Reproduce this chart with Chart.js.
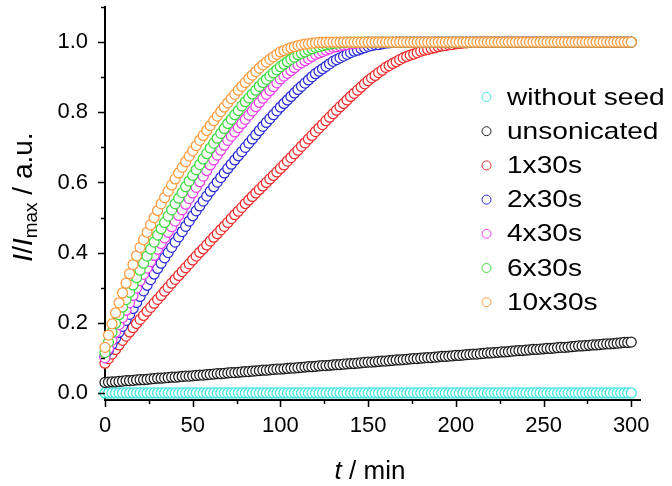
<!DOCTYPE html>
<html>
<head>
<meta charset="utf-8">
<script src="https://cdn.jsdelivr.net/npm/chart.js@4"></script>
<style>
  html, body { margin: 0; padding: 0; background: #fff; }
  canvas { display: block; }
</style>
</head>
<body>
<canvas id="chart" width="672" height="486"></canvas>
<script>
// ---- data (t in min, I/Imax), one point every 2 min ----
const times = [
  0,2,4,6,8,10,12,14,16,18,
  20,22,24,26,28,30,32,34,36,38,
  40,42,44,46,48,50,52,54,56,58,
  60,62,64,66,68,70,72,74,76,78,
  80,82,84,86,88,90,92,94,96,98,
  100,102,104,106,108,110,112,114,116,118,
  120,122,124,126,128,130,132,134,136,138,
  140,142,144,146,148,150,152,154,156,158,
  160,162,164,166,168,170,172,174,176,178,
  180,182,184,186,188,190,192,194,196,198,
  200,202,204,206,208,210,212,214,216,218,
  220,222,224,226,228,230,232,234,236,238,
  240,242,244,246,248,250,252,254,256,258,
  260,262,264,266,268,270,272,274,276,278,
  280,282,284,286,288,290,292,294,296,298,
  300
];

const withoutSeed = [
  0,0,0,0,0,0,0,0,0,0,
  0,0,0,0,0,0,0,0,0,0,
  0,0,0,0,0,0,0,0,0,0,
  0,0,0,0,0,0,0,0,0,0,
  0,0,0,0,0,0,0,0,0,0,
  0,0,0,0,0,0,0,0,0,0,
  0,0,0,0,0,0,0,0,0,0,
  0,0,0,0,0,0,0,0,0,0,
  0,0,0,0,0,0,0,0,0,0,
  0,0,0,0,0,0,0,0,0,0,
  0,0,0,0,0,0,0,0,0,0,
  0,0,0,0,0,0,0,0,0,0,
  0,0,0,0,0,0,0,0,0,0,
  0,0,0,0,0,0,0,0,0,0,
  0,0,0,0,0,0,0,0,0,0,
  0
];

const unsonicated = [
  .030,.031,.032,.032,.033,.034,.035,.035,.036,.037,
  .038,.038,.039,.040,.041,.042,.042,.043,.044,.045,
  .045,.046,.047,.048,.048,.049,.050,.051,.051,.052,
  .053,.054,.055,.055,.056,.057,.058,.058,.059,.060,
  .061,.061,.062,.063,.064,.065,.065,.066,.067,.068,
  .068,.069,.070,.071,.071,.072,.073,.074,.075,.075,
  .076,.077,.078,.078,.079,.080,.081,.081,.082,.083,
  .084,.084,.085,.086,.087,.088,.088,.089,.090,.091,
  .091,.092,.093,.094,.094,.095,.096,.097,.098,.098,
  .099,.100,.101,.101,.102,.103,.104,.104,.105,.106,
  .107,.107,.108,.109,.110,.111,.111,.112,.113,.114,
  .114,.115,.116,.117,.117,.118,.119,.120,.121,.121,
  .122,.123,.124,.124,.125,.126,.127,.127,.128,.129,
  .130,.130,.131,.132,.133,.134,.134,.135,.136,.137,
  .137,.138,.139,.140,.140,.141,.142,.143,.144,.144,
  .145
];

const son1x30 = [
  .085,.098,.111,.124,.137,.150,.162,.174,.186,.198,
  .210,.221,.233,.244,.256,.267,.278,.290,.301,.313,
  .324,.335,.346,.357,.368,.379,.390,.401,.411,.422,
  .433,.444,.454,.465,.475,.486,.497,.508,.518,.529,
  .540,.550,.560,.570,.580,.590,.600,.610,.620,.630,
  .640,.650,.661,.671,.682,.692,.703,.713,.724,.734,
  .745,.755,.765,.776,.786,.796,.806,.816,.825,.835,
  .845,.854,.863,.872,.881,.890,.898,.905,.913,.920,
  .928,.933,.939,.944,.950,.955,.959,.963,.966,.970,
  .974,.977,.979,.982,.984,.987,.989,.990,.992,.993,
  .995,.996,.997,.998,.999,1,1,1,1,1,
  1,1,1,1,1,1,1,1,1,1,
  1,1,1,1,1,1,1,1,1,1,
  1,1,1,1,1,1,1,1,1,1,
  1,1,1,1,1,1,1,1,1,1,
  1
];

const son2x30 = [
  .105,.122,.139,.156,.173,.190,.207,.224,.241,.258,
  .275,.291,.307,.323,.339,.355,.370,.385,.400,.415,
  .430,.445,.460,.475,.490,.505,.519,.533,.547,.561,
  .575,.588,.601,.614,.627,.640,.652,.664,.676,.688,
  .700,.712,.724,.736,.748,.760,.771,.782,.793,.804,
  .815,.825,.835,.845,.855,.865,.874,.883,.892,.901,
  .910,.917,.924,.931,.938,.945,.950,.955,.960,.965,
  .970,.974,.977,.981,.984,.988,.990,.992,.993,.995,
  .997,.998,.999,.999,1,1,1,1,1,1,
  1,1,1,1,1,1,1,1,1,1,
  1,1,1,1,1,1,1,1,1,1,
  1,1,1,1,1,1,1,1,1,1,
  1,1,1,1,1,1,1,1,1,1,
  1,1,1,1,1,1,1,1,1,1,
  1,1,1,1,1,1,1,1,1,1,
  1
];

const son4x30 = [
  .100,.126,.150,.173,.195,.215,.236,.257,.278,.299,
  .320,.338,.356,.374,.392,.410,.426,.442,.458,.474,
  .490,.506,.522,.538,.554,.570,.586,.602,.618,.634,
  .650,.664,.678,.692,.706,.720,.732,.744,.756,.768,
  .780,.792,.804,.816,.828,.840,.851,.862,.873,.884,
  .895,.903,.911,.919,.927,.935,.941,.947,.953,.959,
  .965,.969,.973,.977,.981,.985,.987,.989,.991,.993,
  .995,.996,.997,.998,.999,1,1,1,1,1,
  1,1,1,1,1,1,1,1,1,1,
  1,1,1,1,1,1,1,1,1,1,
  1,1,1,1,1,1,1,1,1,1,
  1,1,1,1,1,1,1,1,1,1,
  1,1,1,1,1,1,1,1,1,1,
  1,1,1,1,1,1,1,1,1,1,
  1,1,1,1,1,1,1,1,1,1,
  1
];

const son6x30 = [
  .115,.145,.173,.199,.223,.245,.266,.287,.308,.329,
  .350,.370,.390,.410,.430,.450,.468,.486,.504,.522,
  .539,.555,.571,.588,.604,.620,.636,.651,.667,.682,
  .698,.712,.726,.740,.754,.768,.780,.793,.805,.818,
  .830,.841,.852,.863,.874,.885,.894,.903,.912,.921,
  .930,.937,.944,.951,.957,.964,.968,.972,.977,.981,
  .985,.987,.990,.992,.994,.996,.997,.998,.999,1,
  1,1,1,1,1,1,1,1,1,1,
  1,1,1,1,1,1,1,1,1,1,
  1,1,1,1,1,1,1,1,1,1,
  1,1,1,1,1,1,1,1,1,1,
  1,1,1,1,1,1,1,1,1,1,
  1,1,1,1,1,1,1,1,1,1,
  1,1,1,1,1,1,1,1,1,1,
  1,1,1,1,1,1,1,1,1,1,
  1
];

const son10x30 = [
  .130,.165,.197,.228,.257,.285,.313,.340,.366,.391,
  .415,.437,.458,.479,.500,.520,.539,.557,.575,.593,
  .610,.627,.643,.659,.675,.690,.705,.720,.734,.748,
  .762,.776,.789,.802,.815,.827,.839,.851,.863,.874,
  .885,.896,.906,.916,.926,.935,.943,.951,.958,.965,
  .972,.976,.980,.984,.987,.990,.992,.994,.995,.997,
  .998,.999,.999,1,1,1,1,1,1,1,
  1,1,1,1,1,1,1,1,1,1,
  1,1,1,1,1,1,1,1,1,1,
  1,1,1,1,1,1,1,1,1,1,
  1,1,1,1,1,1,1,1,1,1,
  1,1,1,1,1,1,1,1,1,1,
  1,1,1,1,1,1,1,1,1,1,
  1,1,1,1,1,1,1,1,1,1,
  1,1,1,1,1,1,1,1,1,1,
  1
];

const seriesLabels = ['without seed', 'unsonicated', '1x30s', '2x30s', '4x30s', '6x30s', '10x30s'];
const seriesValues = [withoutSeed, unsonicated, son1x30, son2x30, son4x30, son6x30, son10x30];
const seriesColors = ['#3fe3e3', '#1e1e1e', '#f02a2a', '#2a2ad8', '#ee3cee', '#3cdc3c', '#ff9a3c'];

const xTicks = [0, 50, 100, 150, 200, 250, 300];
const xMinor = [25, 75, 125, 175, 225, 275];
const yTicks = [0, 0.2, 0.4, 0.6, 0.8, 1.0];
const yMinor = [0.1, 0.3, 0.5, 0.7, 0.9, 1.1];

const FONT = "'Liberation Sans', Arial, sans-serif";

// ---- tick marks, axis titles and legend ----
const decorations = {
    id: 'decorations',
    afterDraw(chart) {
        const ctx = chart.ctx;
        const xs = chart.scales.x, ys = chart.scales.y;
        const area = chart.chartArea;

        ctx.save();
        ctx.strokeStyle = '#000';
        ctx.lineWidth = 1.5;
        ctx.beginPath();
        xTicks.forEach(v => {
            const px = Math.round(xs.getPixelForValue(v)) + 0.5;
            ctx.moveTo(px, area.bottom); ctx.lineTo(px, area.bottom + 7);
        });
        xMinor.forEach(v => {
            const px = Math.round(xs.getPixelForValue(v)) + 0.5;
            ctx.moveTo(px, area.bottom); ctx.lineTo(px, area.bottom + 4);
        });
        yTicks.forEach(v => {
            const py = Math.round(ys.getPixelForValue(v)) + 0.5;
            ctx.moveTo(area.left, py); ctx.lineTo(area.left - 7, py);
        });
        yMinor.forEach(v => {
            const py = Math.round(ys.getPixelForValue(v)) + 0.5;
            ctx.moveTo(area.left, py); ctx.lineTo(area.left - 4, py);
        });
        ctx.stroke();
        ctx.restore();

        // x title: "t / min"
        ctx.save();
        ctx.fillStyle = '#000';
        ctx.textBaseline = 'alphabetic';
        const xParts = [
            { t: 't', f: 'italic 26px ' + FONT },
            { t: ' / min', f: '26px ' + FONT }
        ];
        let w = 0;
        xParts.forEach(p => { ctx.font = p.f; p.w = ctx.measureText(p.t).width; w += p.w; });
        let cx = 370 - w / 2;
        xParts.forEach(p => { ctx.font = p.f; ctx.fillText(p.t, cx, 479); cx += p.w; });
        ctx.restore();

        // y title: "I/Imax / a.u."
        ctx.save();
        ctx.fillStyle = '#000';
        ctx.translate(32, 197);
        ctx.rotate(-Math.PI / 2);
        const yParts = [
            { t: 'I', f: 'italic 28px ' + FONT, dy: 0 },
            { t: '/', f: '28px ' + FONT, dy: 0 },
            { t: 'I', f: 'italic 28px ' + FONT, dy: 0 },
            { t: 'max', f: '19px ' + FONT, dy: 5 },
            { t: ' / a.u.', f: '28px ' + FONT, dy: 0 }
        ];
        w = 0;
        yParts.forEach(p => { ctx.font = p.f; p.w = ctx.measureText(p.t).width; w += p.w; });
        cx = -w / 2;
        yParts.forEach(p => { ctx.font = p.f; ctx.fillText(p.t, cx, p.dy); cx += p.w; });
        ctx.restore();

        // legend
        ctx.save();
        chart.data.datasets.forEach((ds, i) => {
            const ly = 97 + i * 34.2;
            ctx.beginPath();
            ctx.arc(486.5, ly, 4.5, 0, Math.PI * 2);
            ctx.fillStyle = '#fff';
            ctx.fill();
            ctx.lineWidth = 1;
            ctx.strokeStyle = ds.borderColor;
            ctx.stroke();
            ctx.save();
            ctx.translate(507, ly);
            ctx.scale(1.17, 1);
            ctx.font = '24px ' + FONT;
            ctx.fillStyle = '#000';
            ctx.textBaseline = 'middle';
            ctx.fillText(ds.label, 0, 1);
            ctx.restore();
        });
        ctx.restore();
    }
};

const datasets = seriesLabels.map((label, i) => ({
    label: label,
    data: times.map((t, j) => ({ x: t, y: seriesValues[i][j] })),
    borderColor: seriesColors[i],
    backgroundColor: '#ffffff',
    pointRadius: 5,
    pointBorderWidth: 1.25,
    pointHoverRadius: 5,
    showLine: false,
    clip: false,
    order: seriesLabels.length - i
}));

new Chart(document.getElementById('chart'), {
    type: 'scatter',
    data: { datasets: datasets },
    options: {
        responsive: false,
        animation: false,
        devicePixelRatio: 1,
        layout: { padding: { top: 7, right: 32, left: 0, bottom: 0 } },
        plugins: {
            legend: { display: false },
            tooltip: { enabled: false }
        },
        scales: {
            x: {
                type: 'linear',
                min: 0,
                max: 305,
                grid: { display: false, drawTicks: false },
                border: { display: true, color: '#000', width: 2 },
                ticks: { font: { family: FONT, size: 22 }, color: '#000', padding: 13, maxRotation: 0 },
                afterBuildTicks: axis => { axis.ticks = xTicks.map(v => ({ value: v })); },
                afterFit: axis => {
                    axis.height = 86;
                    axis.paddingLeft = 0; axis.paddingRight = 0;
                }
            },
            y: {
                type: 'linear',
                min: -0.02,
                max: 1.1,
                grid: { display: false, drawTicks: false },
                border: { display: true, color: '#000', width: 2 },
                ticks: {
                    font: { family: FONT, size: 22 }, color: '#000', padding: 17,
                    callback: v => v.toFixed(1)
                },
                afterBuildTicks: axis => { axis.ticks = yTicks.map(v => ({ value: v })); },
                afterFit: axis => {
                    axis.width = 105;
                    axis.paddingTop = 0; axis.paddingBottom = 0;
                }
            }
        }
    },
    plugins: [decorations]
});
</script>
</body>
</html>
